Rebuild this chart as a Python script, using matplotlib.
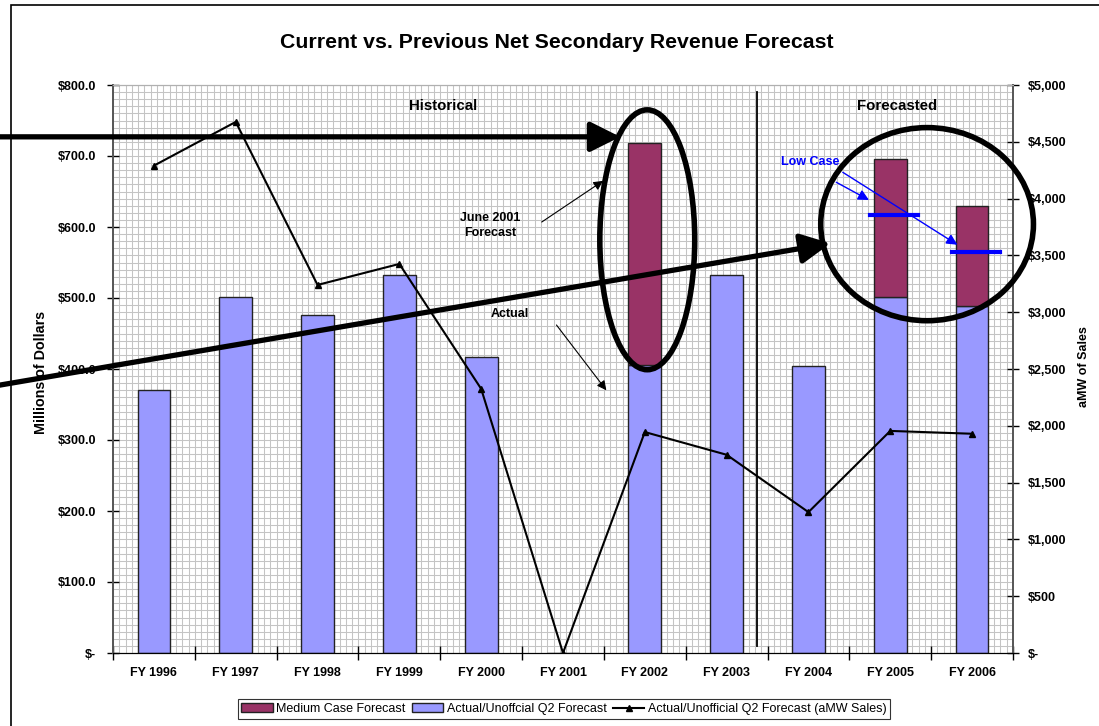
import numpy as np
import matplotlib.pyplot as plt
from matplotlib.patches import Ellipse, Rectangle

plt.rcParams['font.family'] = ['Liberation Sans', 'DejaVu Sans']

# Data
years = ['FY 1996', 'FY 1997', 'FY 1998', 'FY 1999', 'FY 2000', 'FY 2001',
         'FY 2002', 'FY 2003', 'FY 2004', 'FY 2005', 'FY 2006']
actual_q2 = [370, 501, 476, 532, 417, 0, 405, 532, 404, 501, 489]       # $M
medium_case = [0, 0, 0, 0, 0, 0, 718, 0, 0, 696, 630]                   # $M (bar top)
amw_sales = [4290, 4675, 3240, 3425, 2325, 0, 1945, 1745, 1240, 1955, 1930]
low_case_years = [9, 10]
low_case = [617, 565]

left_ticks = np.arange(0, 801, 100)
right_ticks = np.arange(0, 5001, 500)

BLUE = '#9999FF'
PURPLE = '#993366'

fig = plt.figure(figsize=(10.99, 7.26), dpi=100)
ax = fig.add_axes([113 / 1099, 73 / 726, 900 / 1099, 568 / 726])
ax2 = ax.twinx()

x = np.arange(len(years))
ax.set_xlim(-0.5, len(years) - 0.5)
ax.set_ylim(0, 800)
ax2.set_ylim(0, 5000)

# grid pattern of the plot area
for gx in np.arange(-0.5, len(years) - 0.5, 1 / 13):
    ax.axvline(gx, color='#C4C4C4', lw=0.75, zorder=0)
for gy in np.arange(0, 801, 10):
    ax.axhline(gy, color='#C4C4C4', lw=0.75, zorder=0)

bw = 0.4
ax.bar(x, actual_q2, bw, color=BLUE, edgecolor='#222222', lw=1, zorder=2,
       label='Actual/Unoffcial Q2 Forecast')
med = np.array(medium_case, dtype=float)
act = np.array(actual_q2, dtype=float)
mask = med > 0
ax.bar(x[mask], med[mask] - act[mask], bw, bottom=act[mask], color=PURPLE,
       edgecolor='#222222', lw=1, zorder=2, label='Medium Case Forecast')

line, = ax2.plot(x, amw_sales, color='black', lw=1.5, marker='^', ms=5,
                 zorder=3, label='Actual/Unofficial Q2 Forecast (aMW Sales)')

# axes styling
ax.set_xticks(np.arange(-0.5, len(years), 1))
ax.set_xticklabels([])
ax.set_xticks(x, minor=True)
ax.set_xticklabels(years, minor=True, fontsize=9, fontweight='bold')
ax.tick_params(axis='x', which='major', direction='inout', length=10, width=1)
ax.tick_params(axis='x', which='minor', length=0, pad=10)

ax.set_yticks(left_ticks)
ax.set_yticklabels(['$-'] + [f'${v:.1f}' for v in left_ticks[1:]],
                   fontsize=9, fontweight='bold')
ax.tick_params(axis='y', direction='inout', length=8, width=1, pad=8)
ax2.set_yticks(right_ticks)
ax2.set_yticklabels(['$-'] + [f'${v:,}' for v in right_ticks[1:]],
                    fontsize=9, fontweight='bold')
ax2.tick_params(axis='y', direction='inout', length=8, width=1, pad=7)

for a in (ax, ax2):
    a.spines['top'].set_color('#B0B0B0')
    a.spines['left'].set_color('#555555')
    a.spines['right'].set_color('#555555')
    a.spines['bottom'].set_color('black')
    a.spines['left'].set_linewidth(1.2)
    a.spines['right'].set_linewidth(1.2)

ax.set_ylabel('Millions of Dollars', fontsize=10.3, fontweight='bold')
ax.yaxis.set_label_coords(-65 / 900, (653 - 372) / 568)
ax2.set_ylabel('aMW of Sales', fontsize=9, fontweight='bold', rotation=90)
ax2.yaxis.set_label_coords(1 + 65 / 900, (653 - 367) / 568)

fig.text(557 / 1099, 1 - 42 / 726, 'Current vs. Previous Net Secondary Revenue Forecast',
         ha='center', va='center', fontsize=15.3, fontweight='bold')

# divider and section labels
tr = ax.transData
ax2.plot([7.37, 7.37], [10, 790], transform=tr, color='black', lw=1.3, zorder=4)
ax2.text(3.53, 770, 'Historical', transform=tr, ha='center', va='center',
         fontsize=10.8, fontweight='bold')
ax2.text(9.08, 770, 'Forecasted', transform=tr, ha='center', va='center',
         fontsize=10.8, fontweight='bold')

# low case markers
for lx, ly in zip(low_case_years, low_case):
    ax2.plot([lx - 0.245, lx + 0.34], [ly, ly], transform=tr, color='#0000FF',
             lw=3, zorder=6)
ax2.text(8.02, 692, 'Low Case', transform=tr, ha='center', va='center',
         fontsize=9, fontweight='bold', color='#0000FF')
for (tx, ty), (hx, hy) in [((8.34, 663), (8.74, 638)), ((8.42, 677), (9.82, 575))]:
    ax2.annotate('', xy=(hx, hy), xytext=(tx, ty), xycoords=tr, textcoords=tr,
                 arrowprops=dict(arrowstyle='-|>', color='#0000FF', lw=1,
                                 mutation_scale=16, shrinkA=0, shrinkB=0), zorder=6)

# text callouts
ax2.text(4.11, 602, 'June 2001\nForecast', transform=tr, ha='center', va='center',
         fontsize=9, fontweight='bold', linespacing=1.3)
ax2.text(4.35, 477, 'Actual', transform=tr, ha='center', va='center',
         fontsize=9, fontweight='bold')
for (tx, ty), (hx, hy) in [((4.74, 607), (5.49, 665)), ((4.92, 462), (5.53, 370))]:
    ax2.annotate('', xy=(hx, hy), xytext=(tx, ty), xycoords=tr, textcoords=tr,
                 arrowprops=dict(arrowstyle='-|>', color='black', lw=0.8,
                                 mutation_scale=14, shrinkA=0, shrinkB=0), zorder=6)

# big hand-drawn emphasis
ax2.add_patch(Ellipse((6.03, 582), 1.16, 366, transform=tr, fill=False,
                      edgecolor='black', lw=4, zorder=7, clip_on=False))
ax2.add_patch(Ellipse((9.45, 604), 2.60, 272, transform=tr, fill=False,
                      edgecolor='black', lw=4, zorder=7, clip_on=False))
for (tx, ty), (hx, hy) in [((-1.9, 727), (5.70, 727)), ((-1.9, 377), (8.27, 577))]:
    ax2.annotate('', xy=(hx, hy), xytext=(tx, ty), xycoords=tr, textcoords=tr,
                 annotation_clip=False,
                 arrowprops=dict(arrowstyle='-|>', color='black', lw=3.8,
                                 mutation_scale=45, shrinkA=0, shrinkB=0), zorder=7)

# legend
h1, l1 = ax.get_legend_handles_labels()
order = [1, 0]
leg = fig.legend([h1[i] for i in order] + [line], [l1[i] for i in order] + [line.get_label()],
                 loc='center', bbox_to_anchor=(564 / 1099, 1 - 709 / 726), ncol=3,
                 fontsize=9, frameon=True, fancybox=False, edgecolor='black',
                 handlelength=2.5, handletextpad=0.3, columnspacing=0.5,
                 borderpad=0.3)
leg.get_frame().set_linewidth(0.8)

# outer frame of the chart
fig.patches.append(Rectangle((11 / 1099, -0.05), 1.0, 1.05 - 5 / 726,
                             transform=fig.transFigure, fill=False,
                             edgecolor='black', lw=1.2))

fig.savefig('out.png', dpi=100)
